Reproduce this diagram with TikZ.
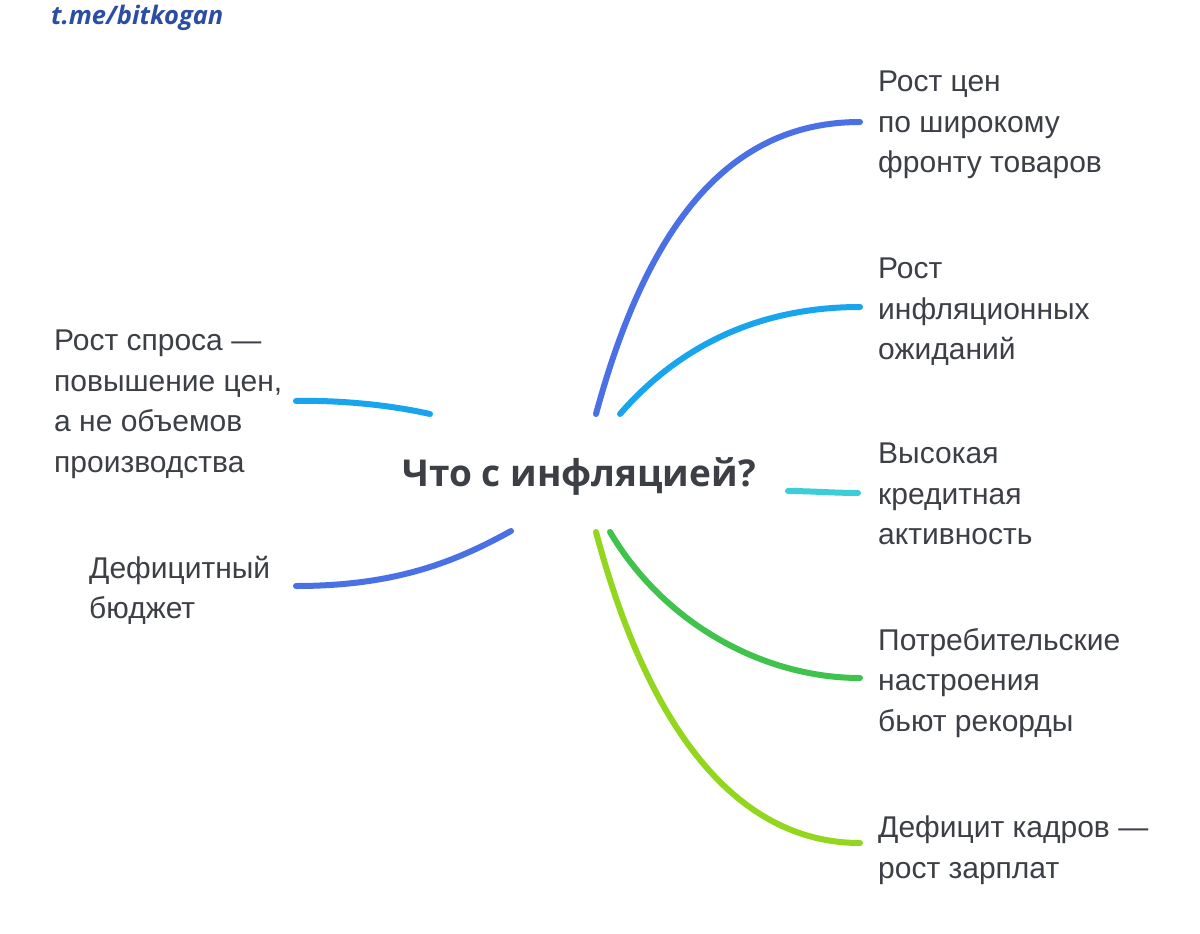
\documentclass[tikz,border=0pt]{standalone}
\usepackage{fontspec}
\setmainfont{Liberation Sans}
\newfontfamily\titlefont{Open Sans}
\newfontfamily\markfont{Open Sans}
\definecolor{txt}{HTML}{3C3F45}
\definecolor{cblue}{HTML}{4A70E6}
\definecolor{csky}{HTML}{18A5EE}
\definecolor{ccyan}{HTML}{3CCDD6}
\definecolor{cgreen}{HTML}{3FC34C}
\definecolor{clime}{HTML}{92D61E}
\definecolor{cmark}{HTML}{2B4EA3}
\begin{document}
\begin{tikzpicture}[x=1pt,y=-1pt,
  lbl/.style={anchor=north west,inner sep=0pt,align=left,text=txt,
    font=\fontsize{30}{40.5}\selectfont},
  branch/.style={line width=6pt,line cap=round}]
\useasboundingbox[fill=white] (0,0) rectangle (1200,934);
\node[anchor=base west,inner sep=0pt,text=cmark,font=\markfont\bfseries\itshape\fontsize{25.5}{30}\selectfont] (mark) at (51,25) {t.me/bitkogan};
\node[inner sep=0pt,text=txt,font=\titlefont\bfseries\fontsize{37}{44}\selectfont] (title) at (579,476) {Что с инфляцией?};
% right labels
\node[lbl] (r1) at (878,71) {Рост цен\\по широкому\\фронту товаров};
\node[lbl] (r2) at (878,258) {Рост\\инфляционных\\ожиданий};
\node[lbl] (r3) at (878,443) {Высокая\\кредитная\\активность};
\node[lbl] (r4) at (878,628) {Потребительские\\настроения\\бьют рекорды};
\node[lbl] (r5) at (878,816) {Дефицит кадров —\\рост зарплат};
% left labels
\node[lbl] (l1) at (54,330) {Рост спроса —\\повышение цен,\\а не объемов\\производства};
\node[lbl] (l2) at (89,556) {Дефицитный\\бюджет};
% connector end points
\coordinate (s1) at (596,414); \coordinate (e1) at (860,122);
\coordinate (s2) at (620,414); \coordinate (e2) at (860,307);
\coordinate (s3) at (788,491); \coordinate (e3) at (858,493);
\coordinate (s4) at (610,532); \coordinate (e4) at (860,678);
\coordinate (s5) at (596,532); \coordinate (e5) at (860,843);
\coordinate (s6) at (430,414); \coordinate (e6) at (296,401);
\coordinate (s7) at (511,531); \coordinate (e7) at (296,586);
\draw[branch,cblue] (s1) .. controls (650,215) and (735,122) .. (e1);
\draw[branch,csky] (s2) .. controls (680,345) and (760,307) .. (e2);
\draw[branch,ccyan] (s3) .. controls (810,491) and (835,493) .. (e3);
\draw[branch,cgreen] (s4) .. controls (665,625) and (765,678) .. (e4);
\draw[branch,clime] (s5) .. controls (650,735) and (740,843) .. (e5);
\draw[branch,csky] (s6) .. controls (390,405) and (340,400) .. (e6);
\draw[branch,cblue] (s7) .. controls (455,562) and (395,586) .. (e7);
\end{tikzpicture}
\end{document}
